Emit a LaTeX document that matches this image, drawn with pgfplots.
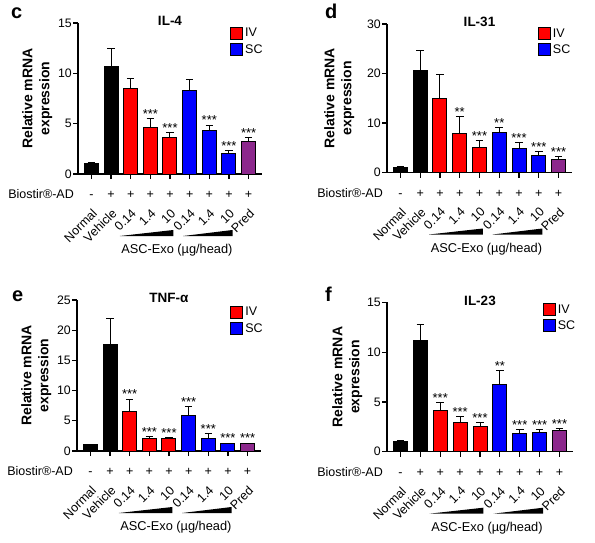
\documentclass[border=0pt]{standalone}
\usepackage{fontspec}
\setmainfont{Liberation Sans}
\usepackage{pgfplots}
\pgfplotsset{compat=1.18}
\definecolor{ivred}{RGB}{255,0,0}
\definecolor{scblue}{RGB}{0,0,255}
\definecolor{predp}{RGB}{140,40,140}
\newcommand{\fs}[1]{\fontsize{#1}{#1}\selectfont}

\pgfplotsset{
  panel/.style={
    scale only axis, width=184pt, height=150pt,
    xmin=-0.68, xmax=8.68, ymin=0, clip=false,
    axis lines=left, axis line style={-, line width=1.2pt},
    tick align=outside, major tick length=5pt,
    every tick/.style={black, line width=1.2pt},
    xtick={0,...,8},
    xticklabels={Normal,Vehicle,0.14,1.4,10,0.14,1.4,10,Pred},
    xticklabel style={yshift=-29pt, rotate=45, anchor=north east, inner sep=0pt, font=\fs{12.5}},
    yticklabel style={font=\fs{12.3}, inner sep=1pt},
    /pgf/number format/assume math mode=true,
    ylabel={Relative mRNA\\expression},
    ylabel style={font=\bfseries\fontsize{14}{16.9}\selectfont, align=center, anchor=south, inner sep=0pt},
    title style={font=\bfseries\fs{13.5}, at={(axis description cs:0.5,1)}, anchor=base, yshift=-8.7pt},
    legend style={draw=none, fill=none, anchor=north west, font=\fs{12.5}, inner sep=0pt, row sep=2pt, cells={anchor=west}},
  },
  bars/.style={ybar, bar width=14pt, bar shift=0pt, draw=black, line width=1pt, forget plot, fill=#1,
    error bars/.cd, y dir=plus, y explicit, error bar style={black, line width=1pt},
    error mark options={rotate=90, mark size=3.8pt, black, line width=1pt}},
  stars/.style={forget plot, draw=none, mark=none, nodes near coords, point meta=explicit symbolic,
    nodes near coords style={anchor=south, inner sep=0pt, font=\fs{13}}},
  signs/.style={forget plot, draw=none, mark=none, nodes near coords, point meta=explicit symbolic,
    nodes near coords style={anchor=base, yshift=-24.5pt, inner sep=0pt, font=\fs{12.5}}},
}

\newcommand{\decor}{%
  \addplot[signs] coordinates {(0,0)[-] (1,0)[+] (2,0)[+] (3,0)[+] (4,0)[+] (5,0)[+] (6,0)[+] (7,0)[+] (8,0)[+]};
  \node[anchor=base east, inner sep=0pt, font=\fs{12.5}] at ([xshift=-4pt,yshift=-24.5pt]axis cs:-0.68,0) {Biostir®-AD};
  \fill[black] ([yshift=-62pt]axis cs:1.45,0) -- ([yshift=-62pt]axis cs:4.17,0) -- ([yshift=-56pt]axis cs:4.17,0) -- cycle;
  \fill[black] ([yshift=-62pt]axis cs:4.67,0) -- ([yshift=-62pt]axis cs:7.18,0) -- ([yshift=-56pt]axis cs:7.18,0) -- cycle;
  \node[anchor=base, inner sep=0pt, font=\fs{12.8}] at ([yshift=-79.5pt]axis cs:4.35,0) {ASC-Exo (µg/head)};
  \addlegendimage{legend image code/.code={\draw[fill=ivred,draw=black,line width=1pt] (0pt,-6pt) rectangle (12pt,6pt);}}
  \addlegendentry{IV}
  \addlegendimage{legend image code/.code={\draw[fill=scblue,draw=black,line width=1pt] (0pt,-6pt) rectangle (12pt,6pt);}}
  \addlegendentry{SC}
}

\begin{document}
\begin{tikzpicture}
\useasboundingbox (0pt,0pt) rectangle (595pt,542pt);

% ---------- c: IL-4
\begin{axis}[panel, at={(78pt,368pt)}, anchor=south west, width=184pt, height=151pt,
  ymax=15, ytick={0,5,10,15}, title={IL-4},
  ylabel style={at={(axis description cs:-0.139,0.5)}},
  legend style={at={(axis description cs:0.826,0.98)}}]
\addplot[bars=black] coordinates {(0,1.02) +- (0,0.09) (1,10.7) +- (0,1.76)};
\addplot[bars=ivred] coordinates {(2,8.45) +- (0,1.07) (3,4.62) +- (0,0.88) (4,3.58) +- (0,0.5)};
\addplot[bars=scblue] coordinates {(5,8.34) +- (0,1.09) (6,4.3) +- (0,0.55) (7,2.05) +- (0,0.29)};
\addplot[bars=predp] coordinates {(8,3.2) +- (0,0.38)};
\addplot[stars] coordinates {(3,5.5)[***] (4,4.08)[***] (6,4.85)[***] (7,2.34)[***] (8,3.58)[***]};
\decor
\end{axis}

% ---------- d: IL-31
\begin{axis}[panel, at={(387pt,369.5pt)}, anchor=south west, width=185pt, height=148.5pt,
  ymax=30, ytick={0,10,20,30}, title={IL-31},
  ylabel style={at={(axis description cs:-0.176,0.5)}},
  legend style={at={(axis description cs:0.815,0.983)}}]
\addplot[bars=black] coordinates {(0,1.05) +- (0,0.12) (1,20.7) +- (0,3.9)};
\addplot[bars=ivred] coordinates {(2,15.0) +- (0,4.7) (3,7.97) +- (0,3.33) (4,5.0) +- (0,1.4)};
\addplot[bars=scblue] coordinates {(5,8.04) +- (0,1.06) (6,4.9) +- (0,1.1) (7,3.38) +- (0,0.92)};
\addplot[bars=predp] coordinates {(8,2.6) +- (0,0.6)};
\addplot[stars] coordinates {(3,11.3)[**] (4,6.4)[***] (5,9.1)[**] (6,6.0)[***] (7,4.3)[***] (8,3.2)[***]};
\decor
\end{axis}

% ---------- e: TNF-alpha
\begin{axis}[panel, at={(77pt,91pt)}, anchor=south west, width=184pt, height=151pt,
  ymax=25, ytick={0,5,10,15,20,25}, title={TNF-α},
  ylabel style={at={(axis description cs:-0.139,0.5)}},
  legend style={at={(axis description cs:0.832,0.967)}}]
\addplot[bars=black] coordinates {(0,1.0) +- (0,0.07) (1,17.7) +- (0,4.3)};
\addplot[bars=ivred] coordinates {(2,6.6) +- (0,2.0) (3,2.04) +- (0,0.39) (4,2.04) +- (0,0.18)};
\addplot[bars=scblue] coordinates {(5,5.96) +- (0,1.44) (6,2.15) +- (0,0.75) (7,1.16) +- (0,0.14)};
\addplot[bars=predp] coordinates {(8,1.2) +- (0,0.12)};
\addplot[stars] coordinates {(2,8.6)[***] (3,2.43)[***] (4,2.22)[***] (5,7.4)[***] (6,2.9)[***] (7,1.3)[***] (8,1.32)[***]};
\decor
\end{axis}

% ---------- f: IL-23
\begin{axis}[panel, at={(387pt,90.3pt)}, anchor=south west, width=186pt, height=149.4pt,
  ymax=15, ytick={0,5,10,15}, title={IL-23},
  ylabel style={at={(axis description cs:-0.132,0.5)}},
  legend style={at={(axis description cs:0.837,1.0)}}]
\addplot[bars=black] coordinates {(0,1.04) +- (0,0.13) (1,11.18) +- (0,1.64)};
\addplot[bars=ivred] coordinates {(2,4.15) +- (0,0.77) (3,2.98) +- (0,0.52) (4,2.58) +- (0,0.33)};
\addplot[bars=scblue] coordinates {(5,6.73) +- (0,1.4) (6,1.81) +- (0,0.39) (7,1.91) +- (0,0.29)};
\addplot[bars=predp] coordinates {(8,2.08) +- (0,0.23)};
\addplot[stars] coordinates {(2,4.92)[***] (3,3.5)[***] (4,2.91)[***] (5,8.13)[**] (6,2.2)[***] (7,2.2)[***] (8,2.31)[***]};
\decor
\end{axis}

\node[anchor=base west, inner sep=0pt, font=\bfseries\fs{20}] at (11pt,523pt) {c};
\node[anchor=base west, inner sep=0pt, font=\bfseries\fs{20}] at (325pt,523pt) {d};
\node[anchor=base west, inner sep=0pt, font=\bfseries\fs{20}] at (12pt,240.3pt) {e};
\node[anchor=base west, inner sep=0pt, font=\bfseries\fs{20}] at (325pt,240.3pt) {f};
\end{tikzpicture}
\end{document}
